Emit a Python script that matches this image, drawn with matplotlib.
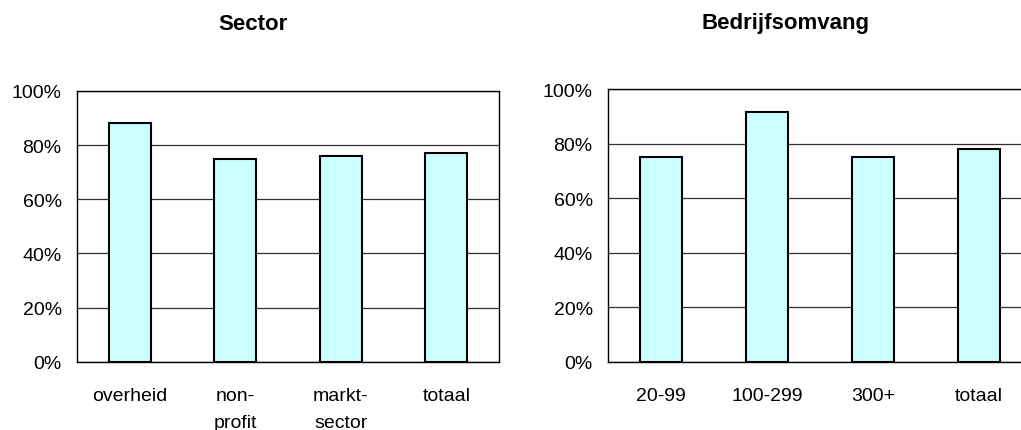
import matplotlib
matplotlib.use("Agg")
import matplotlib.pyplot as plt
from matplotlib.ticker import PercentFormatter

plt.rcParams['font.family'] = ['Liberation Sans', 'DejaVu Sans']

# data
sector_labels = ['overheid', 'non-\nprofit', 'markt-\nsector', 'totaal']
sector_values = [88, 75, 76, 77]
omvang_labels = ['20-99', '100-299', '300+', 'totaal']
omvang_values = [75, 91.5, 75, 78]

bar_color = '#CCFFFF'
fig = plt.figure(figsize=(10.21, 4.31), dpi=100)

def draw(ax, labels, values):
    x = range(len(values))
    ax.bar(x, values, width=0.4, color=bar_color, edgecolor='black', linewidth=1.5, zorder=3)
    ax.set_xlim(-0.5, len(values) - 0.5)
    ax.set_ylim(0, 100)
    ax.set_yticks([0, 20, 40, 60, 80, 100])
    ax.yaxis.set_major_formatter(PercentFormatter(decimals=0))
    ax.set_xticks(list(x))
    ax.set_xticklabels(labels, linespacing=1.75, va='top')
    ax.tick_params(axis='both', length=0, labelsize=14)
    ax.tick_params(axis='y', pad=11)
    ax.tick_params(axis='x', pad=18)
    ax.grid(axis='y', color='#303030', linewidth=0.9, zorder=0)
    for s in ax.spines.values():
        s.set_color('black')
        s.set_linewidth(1.0)

ax1 = fig.add_axes([0.0754, 0.158, 0.4134, 0.6288])
draw(ax1, sector_labels, sector_values)
ax2 = fig.add_axes([0.5955, 0.1585, 0.4153, 0.6325])
draw(ax2, omvang_labels, omvang_values)

fig.text(253 / 1021, 1 - 24 / 431, 'Sector', ha='center', va='center', fontsize=16, fontweight='bold')
fig.text(785 / 1021, 1 - 24 / 431, 'Bedrijfsomvang', ha='center', va='center', fontsize=16, fontweight='bold')

fig.savefig('out.png', dpi=100)
